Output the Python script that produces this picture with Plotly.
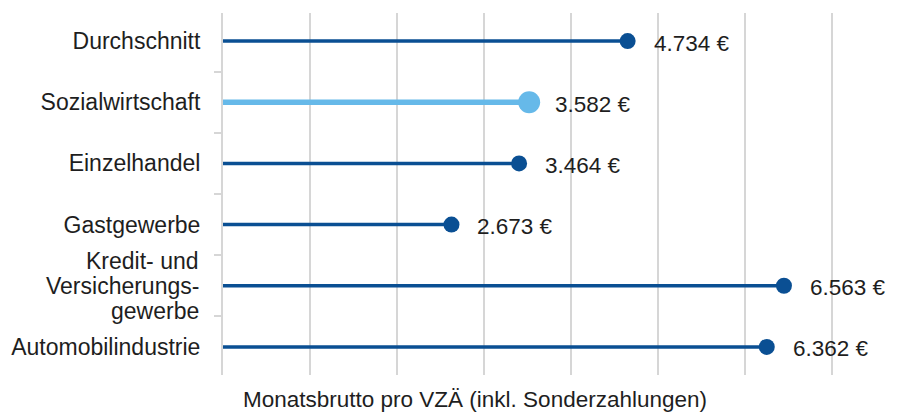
import plotly.graph_objects as go

categories = ["Durchschnitt", "Sozialwirtschaft", "Einzelhandel", "Gastgewerbe",
              "Kredit- und<br>Versicherungs-<br>gewerbe", "Automobilindustrie"]
values = [4734, 3582, 3464, 2673, 6563, 6362]
highlight = "Sozialwirtschaft"
x_title = "Monatsbrutto pro VZÄ (inkl. Sonderzahlungen)"

DARK = "#0a4f93"
LIGHT = "#66b9e9"
GRID = "#d6d6d6"
TEXT = "#1e1e1e"
FONT = "Liberation Sans, Arial, sans-serif"

xmax = 8143
LINE_GAP = 25  # px between wrapped label lines

fig = go.Figure()
for cat, v in zip(categories, values):
    hi = cat == highlight
    col = LIGHT if hi else DARK
    fig.add_trace(go.Scatter(
        x=[0, v], y=[cat, cat], mode="lines",
        line=dict(color=col, width=5.5 if hi else 3.5),
        hoverinfo="skip", showlegend=False, cliponaxis=False))
    fig.add_trace(go.Scatter(
        x=[v], y=[cat], mode="markers",
        marker=dict(color=col, size=22 if hi else 16, line=dict(width=0)),
        showlegend=False, cliponaxis=False))
    fig.add_annotation(
        x=v, y=cat, xref="x", yref="y",
        text=f"{v:,}".replace(",", ".") + " €",
        showarrow=False, xanchor="left", yanchor="middle",
        xshift=24, yshift=-2,
        font=dict(family=FONT, size=22.5, color=TEXT))
    # wrapped category labels drawn line by line for tighter line spacing
    if "<br>" in cat:
        parts = cat.split("<br>")
        n = len(parts)
        for i, part in enumerate(parts):
            fig.add_annotation(
                x=0, y=cat, xref="paper", yref="y",
                text=part, showarrow=False, xanchor="right", yanchor="middle",
                xshift=-22, yshift=((n - 1) / 2 - i) * LINE_GAP,
                font=dict(family=FONT, size=23, color=TEXT))

ticktext = ["" if "<br>" in c else c for c in categories]

fig.add_annotation(
    x=0.362, y=-0.069, xref="paper", yref="paper",
    text=x_title, showarrow=False, xanchor="center", yanchor="middle",
    font=dict(family=FONT, size=22.5, color=TEXT))

fig.update_layout(
    width=915, height=404,
    margin=dict(l=215, r=4, t=5, b=37),
    paper_bgcolor="white", plot_bgcolor="white",
    font=dict(family=FONT, size=23, color=TEXT),
    xaxis=dict(range=[0, xmax], tick0=0, dtick=xmax / 8,
               showticklabels=False, showgrid=True, gridcolor=GRID, gridwidth=2,
               zeroline=False, showline=False, ticks=""),
    yaxis=dict(type="category", categoryorder="array", categoryarray=categories,
               tickvals=categories, ticktext=ticktext,
               autorange="reversed", showgrid=False, zeroline=False,
               showline=True, linecolor=GRID, linewidth=2,
               ticks="outside", tickson="boundaries", ticklen=7, tickwidth=2,
               tickcolor=GRID, ticklabelstandoff=16,
               tickfont=dict(family=FONT, size=23, color=TEXT)),
)

fig.write_html("out.html")
